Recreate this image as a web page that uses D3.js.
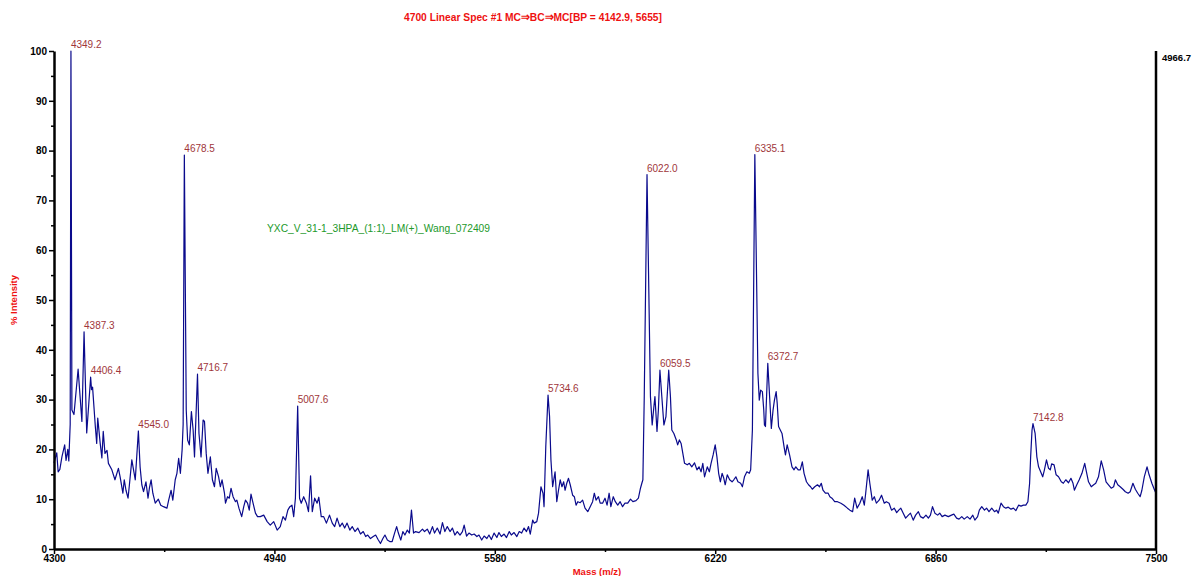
<!DOCTYPE html>
<html><head><meta charset="utf-8">
<script src="https://cdn.jsdelivr.net/npm/d3@7"></script>
<style>
html,body{margin:0;padding:0;background:#fff;}
svg{display:block;font-family:"Liberation Sans",Arial,sans-serif;}
</style></head>
<body>
<svg id="chart" width="1193" height="576"></svg>
<script>
// ---------- DATA ----------
const title = "4700 Linear  Spec #1 MC\u21D2BC\u21D2MC[BP = 4142.9, 5655]";
const sampleName = "YXC_V_31-1_3HPA_(1:1)_LM(+)_Wang_072409";
const xTicks = [4300, 4940, 5580, 6220, 6860, 7500];
const xMinorTicks = [4620, 5260, 5900, 6540, 7180];
const yTicks = [0, 10, 20, 30, 40, 50, 60, 70, 80, 90, 100];
const yMinorTicks = [5, 15, 25, 35, 45, 55, 65, 75, 85, 95];
const maxIntensityLabel = "4966.7";
const xAxisTitle = "Mass (m/z)";
const yAxisTitle = "% Intensity";

const peakMass = [4349.2, 4387.3, 4406.4, 4545.0, 4678.5, 4716.7, 5007.6, 5734.6, 6022.0, 6059.5, 6335.1, 6372.7, 7142.8];
const peakIntensity = [100, 43.6, 34.5, 23.7, 79.1, 35.1, 28.7, 30.9, 75.2, 35.9, 79.2, 37.3, 25.2];

const mass = [4300,4308,4312,4317,4323,4331,4335,4340,4343,4347,4349.2,4352,4358,4370,4381,4387.3,4395,4406.4,4409,4412,4420,4424,4427,4434,4439,4443,4448,4454,4458,4468,4477,4487,4492,4500,4504,4509,4515,4519,4526,4531,4536,4545,4550,4555,4560,4567,4573,4577,4582,4587,4594,4603,4610,4618,4628,4633,4640,4645,4652,4657,4662,4667,4672,4675,4678.5,4684,4688,4693,4699,4704,4708,4716.7,4721,4727,4733,4737,4742,4747,4754,4760,4766,4771,4778,4783,4788,4795,4798,4804,4809,4814,4820,4827,4831,4837,4845,4851,4856,4862,4867,4872,4877,4885,4891,4899,4909,4919,4928,4938,4948,4957,4965,4972,4979,4985,4991,4996,5001,5007.6,5013,5018,5025,5033,5039,5045,5050,5057,5064,5069,5076,5083,5091,5100,5108,5115,5122,5130,5137,5144,5151,5159,5166,5174,5182,5190,5198,5205,5211,5219,5227,5234,5241,5248,5255,5261,5268,5275,5282,5289,5295,5300,5307,5313,5319,5326,5332,5338,5344,5350,5360,5370,5376,5384,5391,5399,5405,5413,5421,5428,5435,5442,5450,5457,5464,5471,5479,5486,5491,5498,5505,5513,5520,5528,5534,5542,5549,5557,5563,5570,5578,5586,5592,5599,5607,5614,5622,5628,5636,5644,5651,5658,5665,5672,5678,5683,5690,5694,5702,5707,5714,5720,5723,5728,5734.6,5739,5743,5748,5755,5760,5765,5770,5775,5780,5784,5789,5794,5799,5806,5811,5816,5821,5828,5835,5842,5850,5857,5864,5869,5874,5881,5886,5893,5900,5906,5912,5917,5924,5930,5937,5944,5951,5958,5966,5974,5981,5990,5997,6003,6007,6010,6014,6022.0,6032,6037,6042,6045,6051,6055,6059.5,6065,6071,6077,6085,6090,6094,6100,6107,6111,6116,6121,6126,6131,6139,6145,6152,6160,6167,6173,6179,6184,6189,6197,6203,6208,6214,6220,6225,6230,6235,6240,6245,6249,6255,6262,6269,6274,6280,6286,6294,6299,6305,6312,6319,6323,6328,6335.1,6344,6348,6352,6357,6361,6363,6366,6372.7,6378,6383,6388,6392,6397,6400,6404,6409,6414,6420,6424,6429,6436,6443,6449,6454,6461,6467,6473,6478,6485,6491,6497,6502,6509,6517,6523,6528,6533,6540,6548,6553,6559,6567,6575,6585,6594,6604,6611,6619,6625,6632,6640,6647,6653,6657,6664,6669,6676,6682,6688,6696,6703,6711,6717,6725,6732,6740,6747,6753,6759,6766,6773,6781,6787,6795,6802,6810,6816,6824,6832,6839,6845,6851,6858,6866,6872,6879,6887,6897,6906,6913,6921,6928,6936,6943,6952,6960,6968,6974,6982,6987,6994,7002,7008,7015,7023,7031,7037,7042,7050,7057,7064,7071,7079,7086,7093,7101,7108,7115,7122,7128,7133,7136,7140,7142.8,7149,7154,7159,7165,7171,7176,7182,7188,7193,7197,7204,7210,7217,7225,7231,7238,7246,7253,7259,7263,7270,7277,7285,7293,7298,7304,7312,7319,7325,7333,7341,7348,7355,7362,7370,7377,7382,7389,7396,7404,7411,7419,7425,7433,7440,7447,7454,7459,7466,7474,7480,7488,7496,7500];

const intensity = [17.3,19.3,15.5,16,18.5,20.9,17.8,20,17.7,25,100,27.9,27,36.1,25.6,43.6,23.3,34.5,32,32.5,24.6,21.2,26.3,21.3,18.3,23.6,19.2,19.8,17.2,15.9,13.9,16.2,14.5,11.2,13.9,11.8,10.2,12.9,17.9,15.9,13.9,23.7,16.5,12.9,11.5,13.5,10.2,12.2,13.9,11.2,9.2,10,8.8,8.5,8.2,9.8,11.8,9.8,13.9,15.2,18.2,15.2,19.9,25,79.1,27.9,21.9,20.9,27.6,23.9,18.5,35.1,23.2,18.5,25.9,25.6,19.2,15.2,18.5,13.9,12.5,16.2,14.5,12.5,13.9,11.2,9.2,10.5,10.2,12.2,10.5,9.5,9.8,8.2,6.5,8.5,9.8,9.2,7.8,11,9.5,7.2,6.5,6.5,6.8,5.5,4.8,5.5,3.8,4.5,6.5,5.8,7.8,8.5,8.8,6.5,10.2,28.7,10.2,9.2,10.5,9.2,7.5,14.7,7.5,10.2,9.2,10.4,6.5,6.5,5.2,6.8,5.2,4.5,6.2,4.5,5.2,4.2,5.2,3.8,4.5,3.5,4.2,3,3.5,2.5,2.8,2.1,2.5,2.8,1.9,1.1,2.1,2.8,1.8,1.5,1.5,3.2,4.5,3.2,1.8,3.5,2.8,3.8,3.2,7.8,3.2,3.5,3.3,4,3.5,4,3,4.5,3.2,4.2,3,5.3,3.5,4.5,3.5,4.2,2.8,3.5,2.8,3.5,4.8,2.6,3.2,2.8,3,2.5,2.8,1.8,2.6,2.1,2.8,1.9,3.2,2.3,3.3,2.5,3,2.3,3.5,2.8,3.3,2.5,3.5,3.2,4.2,3.5,4.5,3,5.8,5.2,5.5,7.2,12.5,11.2,8.5,20.5,30.9,26.6,17.9,12.5,15.5,9.5,11.8,13.9,12.5,13.5,11.8,13.2,14.2,12.9,10.8,10.5,8.8,9.5,9.3,9.8,8.2,7.5,8.5,9.5,11.2,9.8,10.5,9.2,9.2,10.2,8.8,11.2,8.5,10.5,9.5,8.8,9.5,8.5,9.2,9.2,10,9.5,9.7,10.2,12.2,13.2,13.9,30.6,75.2,30.6,24.9,28.6,30.6,23.6,27.9,35.9,30.6,24.9,26.6,35.9,30.6,23.9,23.2,21.9,20.9,21.9,21.2,19.2,17.2,16.9,17.2,16.5,17.3,15.9,16.5,15.5,17.2,14.5,16.5,15.5,17.2,18.9,20.9,18.5,15.2,13.5,15.2,14.2,12.9,14.9,13.9,13.5,13.9,14.5,13.5,13.2,12.5,14.5,15.5,15.2,15.9,23.9,79.2,35.3,29.9,31.9,31.6,27.9,24.9,24.6,37.3,30.6,24.2,27.9,29.9,31.6,29.3,24.6,23.9,23.2,20.5,18.9,20.9,18.9,16.5,15.9,16.5,15.9,15.9,17.5,15.2,13.5,12.9,12.5,12,12.5,12.9,12.5,13.2,11.8,11.2,11.2,10.5,10.2,9.5,9.5,9.2,8.8,8.2,7.8,7.5,10.2,8.2,9.2,10.5,8.8,11.2,15.9,13.2,9.8,10.5,9.2,9.8,10.8,9.2,9.5,9.2,7.8,8.2,7.3,7.8,8.2,7.2,6.2,6.8,7.2,5.8,6.8,7.5,6.5,6.2,6.8,6.2,6.8,8.5,7.2,6.8,7.2,6.5,6.8,6.5,6.8,7,6.2,6,6.5,6,6.5,6,6.8,5.8,6.5,7.8,8.5,7.8,8.2,7.5,8.2,7.5,7.8,7.2,9.2,8.5,8.2,8.4,8,8.2,7.7,8.8,8.6,8.8,8.8,9.5,13.2,18.5,23.9,25.2,23.2,18.5,16.5,15.5,14.5,15.9,17.9,16.2,15.9,17.1,16.9,14.9,14.5,13.5,13.2,13.9,13.3,14.2,13.2,11.8,12.9,13.9,15.2,17.2,15.5,13.5,12.5,12.9,13.2,14.5,17.7,15.9,13.5,12.9,12.2,12.5,13.9,12.9,12.5,12,11.5,11.2,11.5,13.2,12,11.2,10.5,11.8,14.5,16.5,14.9,13.2,11.8,11.2];

// ---------- LAYOUT ----------
const svg = d3.select("#chart");
const x = d3.scaleLinear().domain([4300, 7500]).range([54, 1156]);
const y = d3.scaleLinear().domain([0, 100]).range([549, 51]);

// spectrum line
const pts = mass.map((m, i) => [m, intensity[i]]);
const line = d3.line().x(d => x(d[0])).y(d => y(d[1]));
svg.append("path").datum(pts)
  .attr("d", line)
  .attr("fill", "none")
  .attr("stroke", "#0a0a8c")
  .attr("stroke-width", 1.2)
  .attr("stroke-linejoin", "round");

// axes
function styleAxis(g, sw) {
  g.select(".domain").attr("stroke", "#000").attr("stroke-width", sw);
  g.selectAll(".tick line").attr("stroke", "#000").attr("stroke-width", 1.5);
  g.selectAll(".tick text").attr("fill", "#000").attr("font-weight", "bold")
    .attr("font-size", "10px").attr("font-family", "Liberation Sans, Arial, sans-serif");
}

const yAxis = svg.append("g").attr("transform", "translate(54,0)")
  .call(d3.axisLeft(y).tickValues(yTicks).tickFormat(d3.format("d")).tickSize(5).tickSizeOuter(0).tickPadding(2));
styleAxis(yAxis, 2.5);
const yMinor = svg.append("g").attr("transform", "translate(54,0)")
  .call(d3.axisLeft(y).tickValues(yMinorTicks).tickSize(3).tickFormat(""));
yMinor.select(".domain").remove();
yMinor.selectAll(".tick line").attr("stroke", "#000").attr("stroke-width", 1.5);

const xAxis = svg.append("g").attr("transform", "translate(0,549)")
  .call(d3.axisBottom(x).tickValues(xTicks).tickFormat(d3.format("d")).tickSize(5).tickSizeOuter(0).tickPadding(1));
styleAxis(xAxis, 2.5);
const xMinor = svg.append("g").attr("transform", "translate(0,549)")
  .call(d3.axisBottom(x).tickValues(xMinorTicks).tickSize(3).tickFormat(""));
xMinor.select(".domain").remove();
xMinor.selectAll(".tick line").attr("stroke", "#000").attr("stroke-width", 1.5);

// right axis line
svg.append("line").attr("x1", x(7500)).attr("x2", x(7500))
  .attr("y1", y(100)).attr("y2", y(0))
  .attr("stroke", "#000").attr("stroke-width", 2.5);
svg.append("text").attr("x", x(7500) + 6).attr("y", y(100) + 10)
  .attr("font-size", "9.5px").attr("font-weight", "bold").attr("fill", "#000")
  .text(maxIntensityLabel);

// peak labels
svg.append("g").selectAll("text").data(peakMass).join("text")
  .attr("x", d => x(d))
  .attr("y", (d, i) => y(peakIntensity[i]) - 3)
  .attr("font-size", "10px")
  .attr("fill", "#a0363a")
  .text(d => d.toFixed(1));

// title
svg.append("text").attr("x", 533).attr("y", 21)
  .attr("text-anchor", "middle").attr("font-size", "11.5px").attr("font-weight", "bold")
  .attr("fill", "#ee1111")
  .attr("textLength", 258).attr("lengthAdjust", "spacingAndGlyphs")
  .text(title);

// sample annotation
svg.append("text").attr("x", 267).attr("y", 232)
  .attr("font-size", "11.5px").attr("fill", "#22992a")
  .attr("textLength", 223).attr("lengthAdjust", "spacingAndGlyphs")
  .text(sampleName);

// axis titles
svg.append("text").attr("x", 597).attr("y", 575)
  .attr("text-anchor", "middle").attr("font-size", "9.5px").attr("font-weight", "bold")
  .attr("fill", "#ee1111").text(xAxisTitle);
svg.append("text").attr("transform", "translate(17,300) rotate(-90)")
  .attr("text-anchor", "middle").attr("font-size", "9.5px").attr("font-weight", "bold")
  .attr("fill", "#ee1111").text(yAxisTitle);
</script>
</body></html>
